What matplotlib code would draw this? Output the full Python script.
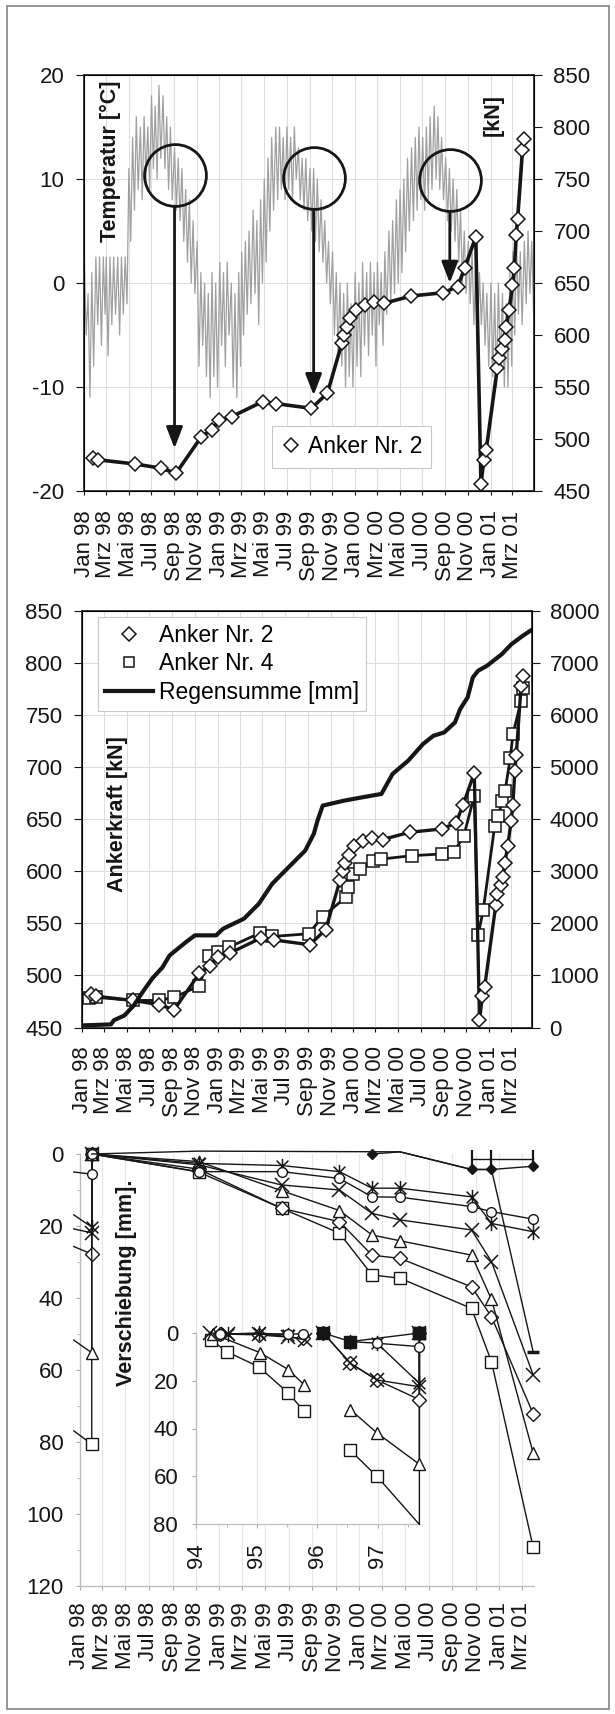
import matplotlib
matplotlib.use('Agg')
import matplotlib.pyplot as plt
import matplotlib.dates as mdates
from matplotlib.path import Path
from matplotlib.lines import Line2D
from matplotlib.patches import Rectangle
from matplotlib.ticker import FuncFormatter, FixedLocator
import pandas as pd
import numpy as np

plt.rcParams['font.family'] = ['Liberation Sans', 'DejaVu Sans']
plt.rcParams['axes.unicode_minus'] = False

W, H = 615, 1714
nan = np.nan

# ------------------------------------------------------------------ data
months_de = ['Jan', 'Feb', 'Mrz', 'Apr', 'Mai', 'Jun', 'Jul', 'Aug', 'Sep', 'Okt', 'Nov', 'Dez']

# Temperature [°C], upper / lower envelope per 10-day period, Jan 98 .. Apr 01
temp_hi = [2, -1, 1, 2.5, 2.5, 2.5, 2.5, 2.5, 2.5, 2.5, 2.5, 2.5,
           11, 14, 16, 15, 16, 15, 18, 17, 19, 18, 16, 15,
           13, 12, 11, 9, 8, 6, 4, 1, 0, -1, 1, 0,
           2, 1, 2, 0, -1, 1, 3, 4, 5, 7, 6, 8,
           10, 12, 14, 15, 15, 14, 15, 14, 15, 13, 12, 12,
           11, 11, 10, 8, 6, 4, 3, 1, 0, -1, 0, -2,
           1, 0, 2, 1, 2, 1, 2, 1, 3, 5, 6, 8,
           9, 10, 12, 13, 14, 15, 14, 15, 16, 17, 16, 14,
           12, 11, 10, 9, 7, 5, 4, 3, 2, 1, 0, -1,
           0, -1, 0, -1, -2, 1, 3, 4, 3, 4, 5, 4]
temp_lo = [-5, -11, -8, -4, -6, -3, -7, -4, -3, -5, -3, -2,
           4, 7, 9, 8, 10, 9, 11, 10, 12, 11, 9, 8,
           7, 6, 4, 2, 0, -1, -8, -6, -9, -11, -9, -10,
           -6, -8, -5, -10, -11, -8, -5, -3, -2, -1, -4, 0,
           2, 5, 7, 8, 9, 8, 9, 8, 10, 8, 7, 6,
           5, 4, 3, 2, 0, -2, -5, -7, -8, -10, -9, -10,
           -8, -9, -6, -7, -5, -8, -4, -6, -3, -2, -1, 0,
           1, 3, 5, 6, 7, 8, 7, 8, 9, 10, 9, 8,
           6, 5, 4, 2, 0, -1, -2, -4, -5, -4, -6, -8,
           -9, -10, -8, -10, -10, -8, -5, -3, -4, -2, -1, -3]

# Anker Nr. 2 [kN]
anker2_dates = ['1998-01-24', '1998-02-08', '1998-05-18', '1998-07-27', '1998-09-06',
                '1998-11-13', '1998-12-11', '1999-01-01', '1999-02-03', '1999-04-28',
                '1999-06-03', '1999-09-06', '1999-10-19', '1999-11-27', '1999-12-04',
                '1999-12-10', '1999-12-20', '2000-01-04', '2000-01-28', '2000-02-21',
                '2000-03-20', '2000-06-01', '2000-08-27', '2000-10-04', '2000-10-23',
                '2000-11-22', '2000-12-06', '2000-12-14', '2000-12-20', '2001-01-19',
                '2001-01-23', '2001-02-02', '2001-02-08', '2001-02-12', '2001-02-20',
                '2001-03-01', '2001-03-06', '2001-03-11', '2001-03-15', '2001-03-28',
                '2001-04-02']
anker2_kn = [482, 480, 476, 472, 467,
             502, 509, 518, 521.5, 536,
             534, 529.5, 544, 592, 600,
             608, 616, 624, 629, 632,
             630.5, 637.5, 640.7, 646.5, 664,
             694.5, 457, 480, 489, 568,
             578, 587, 595, 608, 624,
             648, 664, 696, 712, 778,
             788]

# Anker Nr. 4 [kN]
anker4_dates = ['1998-01-20', '1998-02-08', '1998-05-18', '1998-07-27', '1998-09-06',
                '1998-11-13', '1998-12-09', '1999-01-02', '1999-02-01', '1999-04-24',
                '1999-05-28', '1999-09-03', '1999-10-11', '1999-12-12', '1999-12-17',
                '2000-01-01', '2000-01-20', '2000-02-23', '2000-03-17', '2000-06-07',
                '2000-08-28', '2000-09-28', '2000-10-25', '2000-11-22', '2000-12-02',
                '2000-12-16', '2001-01-16', '2001-01-26', '2001-02-05', '2001-02-13',
                '2001-02-27', '2001-03-06', '2001-03-28', '2001-04-01']
anker4_kn = [478, 479, 476, 476, 479,
             490, 519, 522.4, 527.2, 540.6,
             537.4, 540, 556.6, 575, 584.7,
             597.5, 602, 610, 611.8, 615,
             616.7, 618.3, 634.3, 672.6, 538.4,
             562.4, 643.9, 653.4, 667.8, 677.4,
             709.3, 731.8, 763.7, 776.5]

# Regensumme [mm]
rain_dates = ['1998-01-01', '1998-03-20', '1998-03-28', '1998-04-25', '1998-05-20',
              '1998-06-15', '1998-07-10', '1998-08-05', '1998-08-25', '1998-10-08',
              '1998-11-01', '1998-12-28', '1999-01-16', '1999-03-13', '1999-04-22',
              '1999-05-28', '1999-07-07', '1999-08-25', '1999-09-17', '1999-09-27',
              '1999-10-11', '1999-10-30', '1999-12-08', '2000-01-25', '2000-03-17',
              '2000-04-16', '2000-05-28', '2000-07-07', '2000-08-04', '2000-09-02',
              '2000-10-01', '2000-10-15', '2000-11-04', '2000-11-18', '2000-12-02',
              '2000-12-26', '2001-02-04', '2001-03-02', '2001-04-01', '2001-04-28']
rain_mm = [40, 60, 140, 230, 420,
           700, 950, 1150, 1386, 1641,
           1770, 1770, 1898, 2090, 2377,
           2761, 3048, 3400, 3720, 3975,
           4262, 4294, 4358, 4421, 4486,
           4870, 5125, 5445, 5604, 5668,
           5860, 6116, 6340, 6723, 6851,
           6947, 7170, 7362, 7521, 7650]

# circles / arrows in the top chart
mark_dates = ['1998-09-02', '1999-09-12', '2000-09-13']
mark_temp = [10.4, 10.1, 9.9]
arrow_tip_kn = [491, 542, 650]

# Verschiebung [mm] (main chart)
disp_lead_date = '1997-12-17'
disp_dates = ['1998-02-02', '1998-11-08', '1999-06-13', '1999-11-11', '2000-02-04',
              '2000-04-17', '2000-10-21', '2000-12-12', '2001-03-31']
disp_sq = [0, 5.0, 15.1, 22.0, 33.6, 34.5, 42.9, 57.7, 109.3]
disp_di = [0, 4.2, 15.1, 18.8, 28.1, 29.0, 36.9, 45.2, 72.2]
disp_tr = [0, 2.1, 10.2, 15.7, 22.5, 24.1, 28.1, 40.4, 83.1]
disp_x = [0, 3.0, 8.6, 10.0, 16.5, 18.3, 21.1, 29.9, 61.4]
disp_as = [0, 2.6, 3.2, 4.9, 9.5, 9.5, 11.9, 19.3, 21.6]
disp_ci = [0, 4.9, 4.9, 6.8, 11.9, 12.0, 14.6, 16.0, 18.1]
prev_sq = [76.9, 80.6]
prev_di = [25.7, 27.8]
prev_tr = [51.7, 55.2]
prev_x = [20.8, 21.9]
prev_as = [16.9, 20.3]
prev_ci = [5.0, 5.6]
top_dates = ['1998-02-02', '1998-11-08', '2000-04-17', '2000-10-21', '2000-12-12', '2001-03-31']
top_vals = [0, -0.8, -0.6, 4.3, 4.3, 55]
fdi_dates = ['2000-02-04', '2000-04-17', '2000-10-21', '2000-12-12', '2001-03-31']
fdi_vals = [0, -0.6, 4.3, 4.3, 3.4]
bar_dates = ['2000-10-21', '2000-12-12', '2001-03-31']
bar_vals = [1.5, 1.5, 1.5]

# Inset (years 94 .. 97)
ins_sq_yr = [94.25, 94.5, 95.03, 95.52, 95.78, nan, 96.55, 96.99, 97.69, 97.69]
ins_sq_v = [2.9, 7.8, 14.1, 25.1, 32.6, nan, 49.2, 60.1, 80.2, 0]
ins_tr_yr = [94.28, 95.05, 95.52, 95.78, nan, 96.55, 96.99, 97.69, 97.69]
ins_tr_v = [0.4, 8.2, 15.3, 21.6, nan, 32.1, 41.9, 55, 0]
ins_di_yr = [94.39, 95.03, 95.77, nan, 96.1, 96.55, 96.99, 97.69, 97.69]
ins_di_v = [0.4, 0.8, 2.2, nan, 0, 12.7, 19.7, 27.9, 0]
ins_x_yr = [94.23, 94.53, 95.03, 95.52, 95.8, nan, 96.1, 96.55, 96.99, 97.69, 97.69]
ins_x_v = [0, 0.4, 0.4, 1.5, 2.9, nan, 0, 12.7, 19.7, 22.5, 0]
ins_as_yr = [94.53, 95.03, 95.52, nan, 96.55, 96.99, 97.69, 97.69]
ins_as_v = [0.4, 0, 0.8, nan, 3.6, 4.3, 21.1, 0]
ins_ci_yr = [94.39, 95.52, 95.77, nan, 96.99, 97.69, 97.69]
ins_ci_v = [0.4, 0.4, 0.4, nan, 4.3, 5.7, 0]
ins_fsq_yr = [96.1, 96.55, 97.69]
ins_fsq_v = [0, 3.6, 0]
ins_fdi_yr = [96.1]
ins_fdi_v = [0]

# ------------------------------------------------------------------ styling helpers
INK = '#161616'
GRID = '#dedede'
FS = 16
LFS = 15.5

ASTER = Path([(-1, -1), (1, 1), (-1, 1), (1, -1), (0, -1.3), (0, 1.3)],
             [Path.MOVETO, Path.LINETO, Path.MOVETO, Path.LINETO, Path.MOVETO, Path.LINETO])

fig = plt.figure(figsize=(W / 100, H / 100), dpi=100)


def frac(x0, y0, x1, y1):
    return [x0 / W, 1 - y1 / H, (x1 - x0) / W, (y1 - y0) / H]


def de_date(v, pos):
    d = mdates.num2date(v)
    return f"{months_de[d.month - 1]} {d.year % 100:02d}"


def date_axis(ax, start, end, pad):
    ax.set_xlim(pd.Timestamp(start), pd.Timestamp(end))
    ax.xaxis.set_major_locator(mdates.MonthLocator(bymonth=[1, 3, 5, 7, 9, 11]))
    ax.xaxis.set_major_formatter(FuncFormatter(de_date))
    ax.tick_params(axis='x', labelrotation=90, pad=pad, length=3, width=0.8,
                   labelsize=FS, colors=INK, direction='out')


def D(lst):
    return pd.to_datetime(lst)


# ------------------------------------------------------------------ top chart
ax1 = fig.add_axes(frac(84, 75, 534, 491))
t_dates, t_vals = [], []
for k in range(len(temp_hi)):
    m, j = divmod(k, 3)
    yy, mo = 1998 + m // 12, m % 12 + 1
    t_dates += [pd.Timestamp(yy, mo, 2 + 10 * j), pd.Timestamp(yy, mo, 7 + 10 * j)]
    t_vals += [temp_hi[k], temp_lo[k]]
ax1.plot(t_dates, t_vals, color='#a0a0a0', lw=0.9, zorder=2)
ax1.set_ylim(-20, 20)
ax1.set_yticks([-20, -10, 0, 10, 20])
date_axis(ax1, '1998-01-01', '2001-04-28', 11)
ax1.tick_params(axis='y', labelsize=FS, colors=INK, length=5.5, width=0.8, pad=8.5)
ax1.grid(True, color=GRID, lw=0.8)
ax1.set_axisbelow(True)
for s in ax1.spines.values():
    s.set_color('#303030'); s.set_linewidth(1.3)

ax2 = ax1.twinx()
ax2.set_ylim(450, 850)
ax2.set_yticks(range(450, 851, 50))
ax2.tick_params(axis='y', labelsize=FS, colors=INK, length=5.5, width=0.8, pad=8.5)
ax2.plot(D(anker2_dates), anker2_kn, color=INK, lw=2.6, marker='D', ms=7,
         mfc='white', mec=INK, mew=1.1, zorder=4)
for dte, tc, tip in zip(mark_dates, mark_temp, arrow_tip_kn):
    ckn = 650 + 10 * tc
    ax2.plot([pd.Timestamp(dte)], [ckn], marker='o', ms=44.5, mfc='none', mec=INK,
             mew=2.0, ls='none', zorder=6)
    ax2.annotate('', xy=(pd.Timestamp(dte), tip), xytext=(pd.Timestamp(dte), ckn - 30),
                 arrowprops=dict(arrowstyle='-|>,head_length=1.3,head_width=0.5',
                                 lw=2.0, color=INK, mutation_scale=10,
                                 shrinkA=0, shrinkB=0), zorder=6)
h_a2 = Line2D([], [], ls='none', marker='D', ms=7, mfc='white', mec=INK, mew=1.1)
leg = ax2.legend([h_a2], ['Anker Nr. 2'], loc='center', bbox_to_anchor=(0.595, 0.106),
                 fontsize=16.5, frameon=True, fancybox=False, edgecolor='#c8c8c8',
                 framealpha=1, handlelength=0.8, handletextpad=0.35, borderpad=0.4,
                 borderaxespad=0)
leg.get_frame().set_linewidth(0.8)
leg.set_zorder(7)

fig.text(110 / W, 1 - 161 / H, 'Temperatur [°C]', rotation=90, ha='center', va='center',
         fontsize=LFS, fontweight='bold', color=INK)
fig.text(493.6 / W, 1 - 114.5 / H, '[kN]', rotation=90, ha='center', va='center',
         fontsize=LFS, fontweight='bold', color=INK)

# ------------------------------------------------------------------ middle chart
axm = fig.add_axes(frac(82, 611, 531.5, 1027.5))
axm.set_ylim(450, 850)
axm.set_yticks(range(450, 851, 50))
date_axis(axm, '1998-01-01', '2001-04-25', 10.5)
axm.tick_params(axis='y', labelsize=FS, colors=INK, length=5.5, width=0.8, pad=8.5)
axm.grid(True, color=GRID, lw=0.8)
axm.set_axisbelow(True)
for s in axm.spines.values():
    s.set_color('#303030'); s.set_linewidth(1.3)
axm.plot(D(anker4_dates), anker4_kn, color=INK, lw=2.0, marker='s', ms=8.5,
         mfc='white', mec=INK, mew=1.1, zorder=3)
axm.plot(D(anker2_dates), anker2_kn, color=INK, lw=2.4, marker='D', ms=7,
         mfc='white', mec=INK, mew=1.1, zorder=4)
axm2 = axm.twinx()
axm2.set_ylim(0, 8000)
axm2.set_yticks(range(0, 8001, 1000))
axm2.tick_params(axis='y', labelsize=FS, colors=INK, length=5.5, width=0.8, pad=7.5)
axm2.plot(D(rain_dates), rain_mm, color=INK, lw=3.0, zorder=3)
h_a4 = Line2D([], [], ls='none', marker='s', ms=7, mfc='white', mec=INK, mew=1.1)
h_rain = Line2D([], [], color=INK, lw=3.0)
legm = axm2.legend([h_a2, h_a4, h_rain], ['Anker Nr. 2', 'Anker Nr. 4', 'Regensumme [mm]'],
                   loc='upper left', bbox_to_anchor=(0.036, 0.986), fontsize=16.5,
                   frameon=True, fancybox=False, edgecolor='#c8c8c8', framealpha=1,
                   handlelength=2.1, handletextpad=0.25, borderpad=0.3, labelspacing=0.25,
                   borderaxespad=0)
legm.get_frame().set_linewidth(0.8)
fig.text(118 / W, 1 - 814 / H, 'Ankerkraft [kN]', rotation=90, ha='center', va='center',
         fontsize=LFS, fontweight='bold', color=INK)

# ------------------------------------------------------------------ bottom chart
axb = fig.add_axes(frac(79.5, 1154, 533.6, 1586))
axb.set_ylim(120, 0)
axb.set_yticks(range(0, 121, 20))
axb.yaxis.set_minor_locator(FixedLocator(range(10, 120, 20)))
date_axis(axb, '1998-01-01', '2001-04-01', 8.5)
axb.tick_params(axis='y', which='major', labelsize=FS, colors=INK, length=3, width=0.8,
                pad=8.5)
axb.tick_params(axis='y', which='minor', length=2, width=0.6, color='#aaaaaa')
axb.tick_params(axis='both', which='major', color='#aaaaaa')
axb.grid(True, axis='x', color='#e6e6e6', lw=0.8)
axb.set_axisbelow(True)
for k in ('top', 'right'):
    axb.spines[k].set_visible(False)
for k in ('left', 'bottom'):
    axb.spines[k].set_color('#bdbdbd'); axb.spines[k].set_linewidth(1.0)

LW = 1.0
line_kw = dict(color=INK, lw=LW, clip_on=False, zorder=4)
open_kw = dict(mfc='white', mec=INK, mew=1.0)
series = [
    (disp_sq, prev_sq, dict(marker='s', ms=9, **open_kw)),
    (disp_di, prev_di, dict(marker='D', ms=7, **open_kw)),
    (disp_tr, prev_tr, dict(marker='^', ms=9, **open_kw)),
    (disp_x, prev_x, dict(marker='x', ms=9.5, mec=INK, mew=1.1)),
    (disp_as, prev_as, dict(marker=ASTER, ms=11, mec=INK, mew=1.1)),
    (disp_ci, prev_ci, dict(marker='o', ms=7, **open_kw)),
]
for vals, prev, mk in series:
    xs = D([disp_lead_date, disp_dates[0]] + disp_dates)
    ys = prev + vals
    axb.plot(xs, ys, markevery=list(range(1, len(ys))), **line_kw, **mk)
axb.plot(D(top_dates), top_vals, marker='_', ms=9, mew=2.5, mec=INK,
         markevery=[len(top_vals) - 1], **line_kw)
axb.plot(D(fdi_dates), fdi_vals, marker='D', ms=5.5, mfc=INK, mec=INK,
         markevery=[0, 2, 3, 4], **line_kw)
axb.plot(D(bar_dates), bar_vals, marker='|', ms=13, mew=1.6, mec=INK, **line_kw)

fig.text(126.7 / W, 1 - 1282.5 / H, 'Verschiebung [mm].', rotation=90, ha='center',
         va='center', fontsize=LFS, fontweight='bold', color=INK)

# ------------------------------------------------------------------ inset
axi = fig.add_axes(frac(196.3, 1333, 420, 1524))
axi.set_zorder(axb.get_zorder() + 1)
axi.set_facecolor('white')
axi.set_xlim(94, 97.7)
axi.set_ylim(80, 0)
axi.set_xticks([94, 95, 96, 97])
axi.set_xticklabels(['94', '95', '96', '97'])
axi.xaxis.set_minor_locator(FixedLocator([94.5, 95.5, 96.5, 97.5]))
axi.set_yticks([0, 20, 40, 60, 80])
axi.tick_params(axis='x', which='major', labelrotation=90, labelsize=FS, colors=INK,
                length=3, width=0.8, pad=11)
axi.tick_params(axis='y', which='major', labelsize=FS, colors=INK, length=3, width=0.8,
                pad=10)
axi.tick_params(axis='both', which='major', color='#aaaaaa')
axi.tick_params(axis='both', which='minor', length=2.5, color='#aaaaaa')
axi.grid(True, axis='x', color='#e6e6e6', lw=0.8)
axi.set_axisbelow(True)
for k in ('top', 'right'):
    axi.spines[k].set_visible(False)
for k in ('left', 'bottom'):
    axi.spines[k].set_color('#c4c4c4'); axi.spines[k].set_linewidth(1.0)

ins = [
    (ins_sq_yr, ins_sq_v, dict(marker='s', ms=9, **open_kw), [0, 1, 2, 3, 4, 6, 7, 9]),
    (ins_tr_yr, ins_tr_v, dict(marker='^', ms=9, **open_kw), None),
    (ins_di_yr, ins_di_v, dict(marker='D', ms=7, **open_kw), None),
    (ins_x_yr, ins_x_v, dict(marker='x', ms=9.5, mec=INK, mew=1.1), None),
    (ins_as_yr, ins_as_v, dict(marker=ASTER, ms=11, mec=INK, mew=1.1), None),
    (ins_ci_yr, ins_ci_v, dict(marker='o', ms=7, **open_kw), None),
    (ins_fsq_yr, ins_fsq_v, dict(marker='s', ms=8, mfc=INK, mec=INK), None),
    (ins_fdi_yr, ins_fdi_v, dict(marker='D', ms=6, mfc=INK, mec=INK), None),
]
for xs, ys, mk, me in ins:
    axi.plot(xs, ys, markevery=me, **line_kw, **mk)

# ------------------------------------------------------------------ outer frame
fig.add_artist(Rectangle((7 / W, 1 - 1709 / H), 602 / W, 1703 / H, transform=fig.transFigure,
                         fill=False, ec='#8f8f8f', lw=1.3))

fig.savefig('out.png', dpi=100)
